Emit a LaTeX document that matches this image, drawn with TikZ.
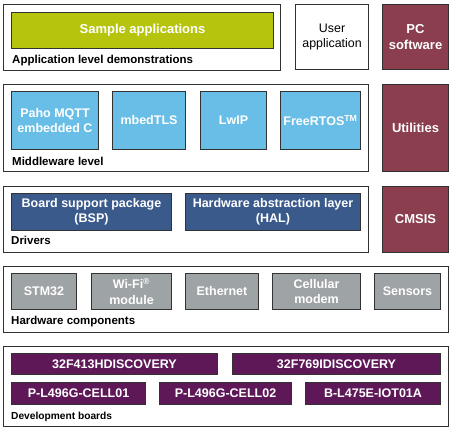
\documentclass[tikz,border=0pt]{standalone}
\usepackage{fontspec}
\setmainfont{Liberation Sans}
\definecolor{cgreen}{RGB}{182,196,14}
\definecolor{cblue}{RGB}{104,190,230}
\definecolor{cdblue}{RGB}{58,90,140}
\definecolor{cmaroon}{RGB}{138,62,78}
\definecolor{cgray}{RGB}{158,163,166}
\definecolor{cpurple}{RGB}{94,24,88}
\definecolor{cline}{RGB}{50,50,50}
\tikzset{
  outerbox/.style={draw=cline, line width=1.1pt, inner sep=0pt},
  innerbox/.style={draw=cline, line width=1pt, text=white, align=center, inner sep=0pt,
    font=\bfseries\fontsize{12.5}{15.5}\selectfont},
  bigtxt/.style={font=\bfseries\fontsize{13}{15.5}\selectfont},
  lvl/.style={anchor=base west, inner sep=0pt, font=\bfseries\fontsize{11.5}{13}\selectfont},
}
\newcommand{\bx}[7]{\node[#6, anchor=north west, minimum width={(#4-#2)*1pt}, minimum height={(#5-#3)*1pt}] (#1) at (#2,#3) {#7};}
\begin{document}
\begin{tikzpicture}[x=1pt,y=-1pt]
\useasboundingbox (0,0) rectangle (450,430);
% Row 1
\bx{app}{3}{4}{280}{70}{outerbox}{}
\bx{sample}{11}{12}{273}{48}{innerbox, fill=cgreen, bigtxt}{Sample applications}
\node[lvl] (applbl) at (12,64) {Application level demonstrations};
\bx{user}{295}{4}{368}{69}{outerbox, align=center, font=\fontsize{12.4}{15.5}\selectfont}{User\\application}
\bx{pc}{382}{4}{448}{69}{innerbox, fill=cmaroon, bigtxt}{PC\\software}
% Row 2
\bx{mid}{3}{84}{368}{171}{outerbox}{}
\bx{paho}{11}{91}{98}{149}{innerbox, fill=cblue}{Paho MQTT\\embedded C}
\bx{mbed}{112}{91}{185}{149}{innerbox, fill=cblue}{mbedTLS}
\bx{lwip}{200}{91}{266}{149}{innerbox, fill=cblue}{LwIP}
\bx{rtos}{280}{91}{360}{149}{innerbox, fill=cblue}{FreeRTOS\textsuperscript{TM}}
\node[lvl] (midlbl) at (12,166) {Middleware level};
\bx{util}{382}{84}{448}{171}{innerbox, fill=cmaroon, bigtxt}{Utilities}
% Row 3
\bx{drv}{3}{186}{368}{252}{outerbox}{}
\bx{bsp}{11}{193}{171}{230}{innerbox, fill=cdblue}{Board support package\\(BSP)}
\bx{hal}{185}{193}{360}{230}{innerbox, fill=cdblue}{Hardware abstraction layer\\(HAL)}
\node[lvl] (drvlbl) at (11,245) {Drivers};
\bx{cmsis}{382}{186}{448}{252}{innerbox, fill=cmaroon, bigtxt}{CMSIS}
% Row 4
\bx{hw}{3}{266}{448}{332}{outerbox}{}
\bx{stm}{11}{273}{76}{309}{innerbox, fill=cgray}{STM32}
\bx{wifi}{91}{273}{171}{309}{innerbox, fill=cgray}{Wi-Fi\textsuperscript{\textregistered}\\module}
\bx{eth}{185}{273}{258}{309}{innerbox, fill=cgray}{Ethernet}
\bx{cell}{272}{273}{360}{309}{innerbox, fill=cgray}{Cellular\\modem}
\bx{sens}{374}{273}{440}{309}{innerbox, fill=cgray}{Sensors}
\node[lvl] (hwlbl) at (11,325) {Hardware components};
% Row 5
\bx{dev}{3}{346}{448}{426}{outerbox}{}
\bx{d413}{11}{353}{217}{374}{innerbox, fill=cpurple}{32F413HDISCOVERY}
\bx{d769}{232}{353}{440}{374}{innerbox, fill=cpurple}{32F769IDISCOVERY}
\bx{c01}{11}{382}{145}{404}{innerbox, fill=cpurple}{P-L496G-CELL01}
\bx{c02}{159}{382}{291}{404}{innerbox, fill=cpurple}{P-L496G-CELL02}
\bx{iot}{305}{382}{440}{404}{innerbox, fill=cpurple}{B-L475E-IOT01A}
\node[lvl, font=\bfseries\fontsize{10.2}{12}\selectfont] (devlbl) at (11,420) {Development boards};
\end{tikzpicture}
\end{document}
